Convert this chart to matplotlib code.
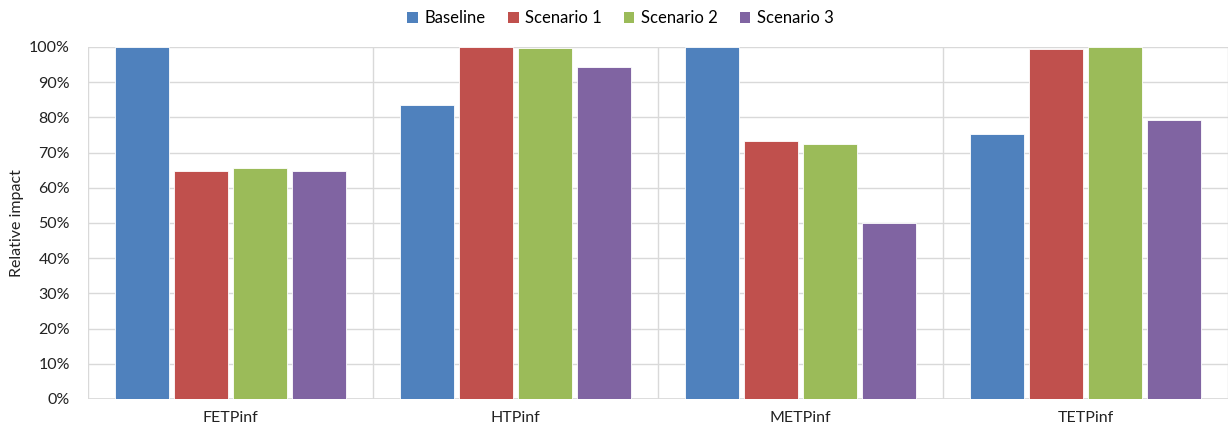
import matplotlib
matplotlib.use("Agg")
import matplotlib.pyplot as plt
from matplotlib.patches import Patch
from matplotlib.ticker import PercentFormatter
import numpy as np

categories = ["FETPinf", "HTPinf", "METPinf", "TETPinf"]
series_names = ["Baseline", "Scenario 1", "Scenario 2", "Scenario 3"]
baseline = [100.0, 83.5, 100.0, 75.3]
scenario1 = [64.8, 100.0, 73.3, 99.4]
scenario2 = [65.6, 99.7, 72.4, 100.0]
scenario3 = [64.9, 94.3, 50.0, 79.3]
colors = ["#4F81BD", "#C0504D", "#9BBB59", "#8064A2"]

plt.rcParams["font.family"] = ["Lato", "DejaVu Sans"]

fig = plt.figure(figsize=(12.29, 4.30), dpi=100)
ax = fig.add_axes([0.0716, 0.0721, 0.9276, 0.8186])

x = np.arange(len(categories))
width = 0.19
step = 0.207
for i, (vals, col) in enumerate(zip([baseline, scenario1, scenario2, scenario3], colors)):
    ax.bar(x + (i - 1.5) * step, vals, width=width, color=col,
           edgecolor="white", linewidth=0.6, zorder=3)

ax.set_xlim(-0.5, len(categories) - 0.5)
ax.set_ylim(0, 100)
ax.set_yticks(np.arange(0, 101, 10))
ax.yaxis.set_major_formatter(PercentFormatter(decimals=0))
ax.set_xticks(x)
ax.set_xticklabels(categories)
ax.tick_params(axis="both", length=0, labelsize=11.5, colors="#222222")
ax.tick_params(axis="y", pad=13)
ax.tick_params(axis="x", pad=9)

# horizontal gridlines and vertical category separators
ax.grid(axis="y", color="#D9D9D9", linewidth=1.0, zorder=0)
for b in np.arange(-0.5, len(categories), 1.0):
    ax.axvline(b, color="#D9D9D9", linewidth=1.0, zorder=0)

for s in ax.spines.values():
    s.set_visible(False)
ax.axhline(0, color="#D9D9D9", linewidth=1.2, zorder=1)

ax.set_ylabel("Relative impact", fontsize=11.5, color="#222222")
ax.yaxis.set_label_coords(-0.056, 0.5)

handles = [Patch(facecolor=c, edgecolor="none") for c in colors]
fig.legend(handles, series_names, loc="center", bbox_to_anchor=(0.505, 0.957),
           ncol=4, frameon=False, fontsize=12, handlelength=0.65, handleheight=0.65,
           handletextpad=0.4, columnspacing=1.3)

fig.savefig("out.png", dpi=100)
